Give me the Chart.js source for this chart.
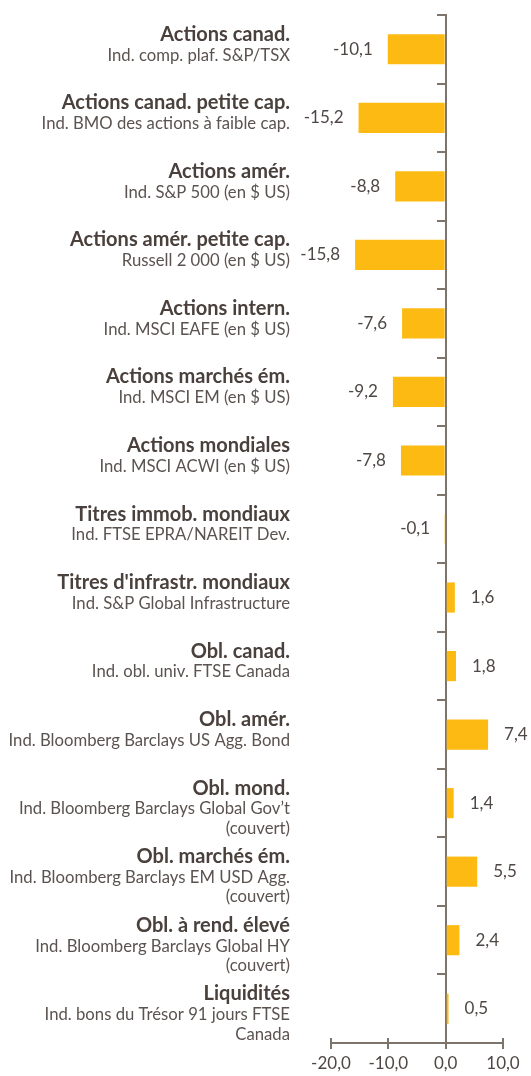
<!DOCTYPE html>
<html>
<head>
<meta charset="utf-8">
<script src="https://cdn.jsdelivr.net/npm/chart.js@4/dist/chart.umd.min.js"></script>
<style>
  html, body { margin: 0; padding: 0; background: #fff; }
  #wrap { width: 531px; height: 1076px; }
</style>
</head>
<body>
<div id="wrap"><canvas id="c"></canvas></div>
<script>
// categories (bold title) and index descriptions (one or more lines)
const titles = [
  'Actions canad.',
  'Actions canad. petite cap.',
  'Actions amér.',
  'Actions amér. petite cap.',
  'Actions intern.',
  'Actions marchés ém.',
  'Actions mondiales',
  'Titres immob. mondiaux',
  "Titres d'infrastr. mondiaux",
  'Obl. canad.',
  'Obl. amér.',
  'Obl. mond.',
  'Obl. marchés ém.',
  'Obl. à rend. élevé',
  'Liquidités'
];
const subtitles = [
  ['Ind. comp. plaf. S&P/TSX'],
  ['Ind. BMO des actions à faible cap.'],
  ['Ind. S&P 500 (en $ US)'],
  ['Russell 2 000 (en $ US)'],
  ['Ind. MSCI EAFE (en $ US)'],
  ['Ind. MSCI EM (en $ US)'],
  ['Ind. MSCI ACWI (en $ US)'],
  ['Ind. FTSE EPRA/NAREIT Dev.'],
  ['Ind. S&P Global Infrastructure'],
  ['Ind. obl. univ. FTSE Canada'],
  ['Ind. Bloomberg Barclays US Agg. Bond'],
  ['Ind. Bloomberg Barclays Global Gov’t', '(couvert)'],
  ['Ind. Bloomberg Barclays EM USD Agg.', '(couvert)'],
  ['Ind. Bloomberg Barclays Global HY', '(couvert)'],
  ['Ind. bons du Trésor 91 jours FTSE', 'Canada']
];
const returns = [-10.1, -15.2, -8.8, -15.8, -7.6, -9.2, -7.8, -0.1, 1.6, 1.8, 7.4, 1.4, 5.5, 2.4, 0.5];
const xTicks = [-20, -10, 0, 10];

const fmt = (v) => v.toFixed(1).replace('.', ',');
const FONT = 'Lato, "Open Sans", sans-serif';
const axisColor = '#7d746c';

// left-hand labels: bold title, lighter description lines below
const labelPlugin = {
  id: 'labels',
  afterDraw(chart) {
    const ctx = chart.ctx;
    const y = chart.scales.y;
    ctx.save();
    ctx.textAlign = 'right';
    ctx.textBaseline = 'alphabetic';
    titles.forEach((t, i) => {
      const cy = y.getPixelForValue(i);
      ctx.fillStyle = '#4a403c';
      ctx.font = 'bold 20px ' + FONT;
      ctx.fillText(t, 290, cy - 8.5);
      ctx.fillStyle = '#5b5350';
      ctx.font = '16.7px ' + FONT;
      subtitles[i].forEach((s, j) => ctx.fillText(s, 290, cy + 11.3 + j * 19.5));
    });
    ctx.restore();
  }
};

// value labels next to the bar ends
const valuePlugin = {
  id: 'values',
  afterDatasetsDraw(chart) {
    const ctx = chart.ctx;
    const x = chart.scales.x;
    const y = chart.scales.y;
    ctx.save();
    ctx.font = '17px ' + FONT;
    ctx.fillStyle = '#4f4744';
    ctx.textBaseline = 'middle';
    returns.forEach((v, i) => {
      const px = x.getPixelForValue(v);
      const py = y.getPixelForValue(i);
      if (v < 0) {
        ctx.textAlign = 'right';
        ctx.fillText(fmt(v), px - 15, py);
      } else {
        ctx.textAlign = 'left';
        ctx.fillText(fmt(v), px + 16, py);
      }
    });
    ctx.restore();
  }
};

// the x tick marks cross the axis line slightly
const crossTicks = {
  id: 'crossTicks',
  afterDraw(chart) {
    const ctx = chart.ctx;
    const x = chart.scales.x;
    const bottom = chart.chartArea.bottom;
    ctx.save();
    ctx.strokeStyle = axisColor;
    ctx.lineWidth = 2;
    xTicks.forEach((t) => {
      const px = Math.round(x.getPixelForValue(t));
      ctx.beginPath();
      ctx.moveTo(px, bottom - 5);
      ctx.lineTo(px, bottom);
      ctx.stroke();
    });
    ctx.restore();
  }
};

new Chart(document.getElementById('c'), {
  type: 'bar',
  data: {
    labels: titles,
    datasets: [{
      data: returns,
      backgroundColor: '#fcba12',
      borderWidth: 0,
      categoryPercentage: 0.44,
      barPercentage: 1
    }]
  },
  options: {
    indexAxis: 'y',
    responsive: true,
    maintainAspectRatio: false,
    animation: false,
    layout: { padding: { top: 15, left: 331, right: 28, bottom: 0 } },
    plugins: {
      legend: { display: false },
      tooltip: { enabled: false }
    },
    scales: {
      x: {
        position: 'bottom',
        min: -20,
        max: 10,
        afterBuildTicks: (s) => { s.ticks = xTicks.map((v) => ({ value: v })); },
        afterFit: (s) => { s.height = 33; },
        grid: { drawOnChartArea: false, drawTicks: true, tickLength: 6, color: axisColor, lineWidth: 2 },
        border: { display: true, color: axisColor, width: 2 },
        ticks: {
          color: '#4f4744',
          padding: 4,
          font: { family: FONT, size: 17 },
          callback: (v) => fmt(v)
        }
      },
      y: {
        type: 'category',
        position: { x: 0 },
        offset: true,
        grid: { offset: true, drawOnChartArea: false, drawTicks: true, tickLength: 8, color: axisColor, lineWidth: 2 },
        border: { display: true, color: axisColor, width: 2 },
        ticks: { display: false }
      }
    }
  },
  plugins: [labelPlugin, valuePlugin, crossTicks]
});
</script>
</body>
</html>
